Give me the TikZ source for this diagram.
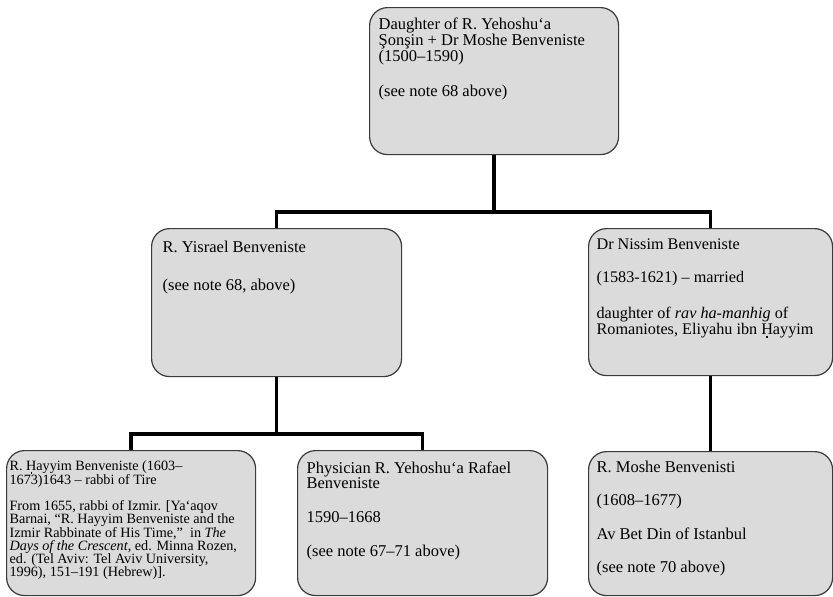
\documentclass[tikz,border=0pt]{standalone}
\usepackage{fontspec}
\setmainfont{Liberation Serif}
\definecolor{boxfill}{HTML}{DBDBDB}
\definecolor{boxline}{HTML}{3A3A3A}
\newcommand{\Hdotb}{\smash{\oalign{H\crcr\hidewidth\rule{0.1em}{0.1em}\hidewidth}}}
% #1 width, #2 height, #3 font size, #4 baselineskip, #5 text
\newcommand{\bxt}[5]{\parbox[c][#2][t]{#1}{\raggedright\fontsize{#3}{#4}\selectfont #5}}
\begin{document}
\begin{tikzpicture}[x=1pt,y=1pt,
  box/.style={draw=boxline, fill=boxfill, line width=1.2pt, rounded corners=18pt,
              inner xsep=9pt, inner ysep=10pt, anchor=north west},
  link/.style={line width=3.6pt, black}]
\useasboundingbox (0,0) rectangle (833,-597);

\node[box] (top) at (369,-7)
  {\bxt{231pt}{127pt}{16.5}{16}{Daughter of R. Yehoshu‘a\\
   Şonşin + Dr Moshe Benveniste\\
   (1500--1590)\\[19pt]
   (see note 68 above)}};

\node[box, inner xsep=11pt, inner ysep=12pt] (midL) at (151,-228)
  {\bxt{228pt}{124pt}{16.5}{15.5}{R. Yisrael Benveniste\\[22.5pt]
   (see note 68, above)}};

\node[box, inner xsep=8pt, inner ysep=10pt] (midR) at (588,-228)
  {\bxt{228pt}{127pt}{16.2}{14.5}{Dr Nissim Benveniste\\[18.5pt]
   (1583-1621) -- married\\[20.5pt]
   daughter of \emph{rav ha-manhig} of\\
   Romaniotes, Eliyahu ibn \Hdotb ayyim}};

\node[box, inner xsep=3pt, inner ysep=10pt] (botL) at (6,-450)
  {\bxt{243pt}{125pt}{14.2}{13}{R. \Hdotb ayyim Benveniste (1603--\\
   1673)1643 -- rabbi of Tire\\[11.5pt]
   From 1655, rabbi of Izmir. [Ya‘aqov\\
   Barnai, “R. Hayyim Benveniste and the\\
   Izmir Rabbinate of His Time,”\ \ in \emph{The}\\
   \emph{Days of the Crescent}, ed. Minna Rozen,\\
   ed. (Tel Aviv: Tel Aviv University,\\
   1996), 151--191 (Hebrew)].}};

\node[box, inner xsep=9pt, inner ysep=11pt] (botM) at (297,-450)
  {\bxt{232pt}{123pt}{16.5}{15}{Physician R. Yehoshu‘a Rafael\\
   Benveniste\\[19pt]
   1590--1668\\[19pt]
   (see note 67--71 above)}};

\node[box, inner xsep=8pt, inner ysep=9pt] (botR) at (588,-451)
  {\bxt{228pt}{126pt}{16.5}{15.5}{R. Moshe Benvenisti\\[18pt]
   (1608--1677)\\[18pt]
   Av Bet Din of Istanbul\\[18pt]
   (see note 70 above)}};

\draw[link] (top.south) -- ++(0,-57) -| (midL.north);
\draw[link] (top.south) -- ++(0,-57) -| (midR.north);
\draw[link] (midL.south) -- ++(0,-57) -| (botL.north);
\draw[link] (midL.south) -- ++(0,-57) -| (botM.north);
\draw[link] (midR.south) -- (botR.north);
\end{tikzpicture}
\end{document}
